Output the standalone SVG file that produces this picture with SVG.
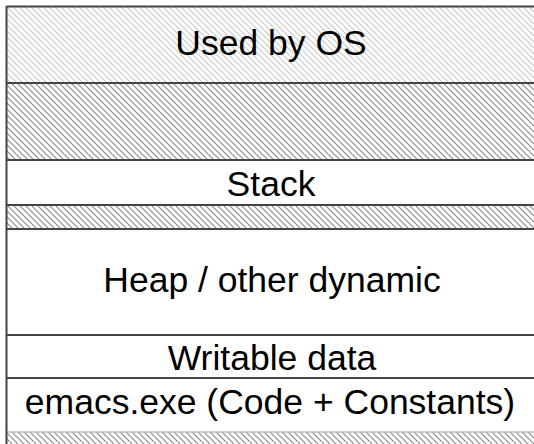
<svg xmlns="http://www.w3.org/2000/svg" width="534" height="444" viewBox="0 0 534 444">
<style>
.lbl{font-family:"Liberation Sans",Arial,sans-serif;font-size:35.5px;fill:#000;text-anchor:middle}
.sep{stroke:#444;stroke-width:2;fill:none}
</style>
<defs>
<pattern id="hl" patternUnits="userSpaceOnUse" width="6" height="6">
<path d="M-1,-1 L7,7 M-1,5 L1,7 M5,-1 L7,1" stroke="#c8c8c8" stroke-width="1.1"/>
</pattern>
<pattern id="hd" patternUnits="userSpaceOnUse" width="6" height="6">
<path d="M-1,-1 L7,7 M-1,5 L1,7 M5,-1 L7,1" stroke="#8a8a8a" stroke-width="1.1"/>
</pattern>
</defs>
<rect width="534" height="444" fill="#fff"/>
<g id="os"><rect x="6" y="7" width="528" height="76" fill="url(#hl)"/><text class="lbl" x="271" y="55">Used by OS</text></g>
<g id="gap1"><rect x="6" y="83" width="528" height="77" fill="url(#hd)"/></g>
<g id="stack"><rect x="6" y="160" width="528" height="45" fill="#fff"/><text class="lbl" x="271" y="196">Stack</text></g>
<g id="gap2"><rect x="6" y="205" width="528" height="24" fill="url(#hd)"/></g>
<g id="heap"><rect x="6" y="229" width="528" height="106" fill="#fff"/><text class="lbl" x="272" y="292">Heap / other dynamic</text></g>
<g id="data"><rect x="6" y="335" width="528" height="43" fill="#fff"/><text class="lbl" x="272" y="370">Writable data</text></g>
<g id="code"><rect x="6" y="378" width="528" height="54" fill="#fff"/><text class="lbl" x="270" y="414">emacs.exe (Code + Constants)</text></g>
<g id="below"><rect x="6" y="432" width="528" height="12" fill="url(#hd)"/></g>
<g id="lines">
<path class="sep" d="M6.5,6.5 H534 M6,83 H534 M6,160 H534 M6,205 H534 M6,229 H534 M6,335 H534 M6,378 H534"/>
<path d="M6,432 H534" stroke="#bbb" stroke-width="1.5"/>
<path class="sep" d="M6.5,6 V444"/>
</g>
</svg>
